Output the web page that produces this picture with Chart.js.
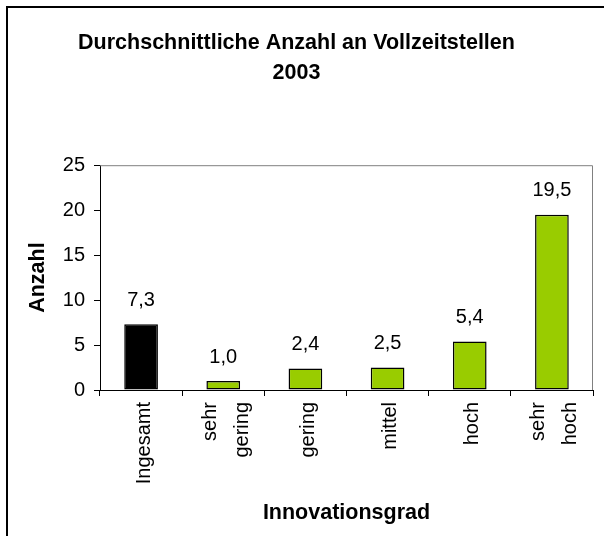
<!DOCTYPE html>
<html>
<head>
<meta charset="utf-8">
<script src="https://cdn.jsdelivr.net/npm/chart.js@4"></script>
<style>
  html, body { margin: 0; padding: 0; background: #fff; }
  #wrap { width: 604px; height: 536px; position: relative; }
</style>
</head>
<body>
<div id="wrap"><canvas id="chart" width="604" height="536"></canvas></div>
<script>
// chart data
const categories = ["Ingesamt", ["sehr", "gering"], "gering", "mittel", "hoch", ["sehr", "hoch"]];
const values = [7.3, 1.0, 2.4, 2.5, 5.4, 19.5];
const barColors = ["#000000", "#99cc00", "#99cc00", "#99cc00", "#99cc00", "#99cc00"];
const yTicks = [0, 5, 10, 15, 20, 25];

const FONT = "'Liberation Sans', Arial, sans-serif";

// frame around the whole picture, grey plot border, value labels, rotated x labels
const extras = {
  id: "extras",
  beforeDraw(chart) {
    const ctx = chart.ctx;
    ctx.save();
    ctx.fillStyle = "#fff";
    ctx.fillRect(0, 0, chart.width, chart.height);
    ctx.strokeStyle = "#000";
    ctx.lineWidth = 2;
    ctx.beginPath();
    ctx.moveTo(7, chart.height);
    ctx.lineTo(7, 7);
    ctx.lineTo(chart.width, 7);
    ctx.stroke();
    ctx.restore();
  },
  afterDatasetsDraw(chart) {
    const ctx = chart.ctx;
    const a = chart.chartArea;
    ctx.save();
    ctx.strokeStyle = "#808080";
    ctx.lineWidth = 1;
    ctx.beginPath();
    ctx.moveTo(a.left, a.top + 0.5);
    ctx.lineTo(a.right - 0.5, a.top + 0.5);
    ctx.lineTo(a.right - 0.5, a.bottom);
    ctx.stroke();

    ctx.fillStyle = "#000";
    ctx.font = "20px " + FONT;
    ctx.textAlign = "center";
    ctx.textBaseline = "middle";
    chart.getDatasetMeta(0).data.forEach((bar, i) => {
      ctx.fillText(values[i].toFixed(1).replace(".", ","), bar.x, bar.y - 24);
    });

    // category labels, rotated, multi-line ones centred on the tick
    const xs = chart.scales.x;
    const lh = 32;
    categories.forEach((c, i) => {
      const lines = Array.isArray(c) ? c : [c];
      const x0 = xs.getPixelForValue(i) + 3;
      lines.forEach((t, j) => {
        const cx = x0 + (j - (lines.length - 1) / 2) * lh;
        ctx.save();
        ctx.translate(cx, a.bottom + 12);
        ctx.rotate(-Math.PI / 2);
        ctx.textAlign = "right";
        ctx.textBaseline = "middle";
        ctx.fillText(t, 0, 0);
        ctx.restore();
      });
    });
    ctx.restore();
  }
};

new Chart(document.getElementById("chart"), {
  type: "bar",
  data: {
    labels: categories,
    datasets: [{
      data: values,
      backgroundColor: barColors,
      borderColor: "#000",
      borderWidth: 1.5,
      borderSkipped: false,
      barPercentage: 0.41,
      categoryPercentage: 1.0
    }]
  },
  options: {
    responsive: false,
    animation: false,
    layout: { padding: { left: 0, right: 11, top: 0, bottom: 0 } },
    plugins: {
      legend: { display: false },
      tooltip: { enabled: false },
      title: {
        display: true,
        text: ["Durchschnittliche Anzahl an Vollzeitstellen", "2003"],
        color: "#000",
        font: { family: FONT, size: 21.5, weight: "bold", lineHeight: 1.4 },
        padding: { top: 28, bottom: 77 }
      }
    },
    scales: {
      x: {
        grid: { offset: true, drawOnChartArea: false, drawTicks: true, tickLength: 6, color: "#000" },
        border: { color: "#000", width: 1 },
        ticks: { display: false, autoSkip: false },
        title: {
          display: true,
          text: "Innovationsgrad",
          color: "#000",
          font: { family: FONT, size: 21.5, weight: "bold" },
          padding: { top: 0, bottom: 10 }
        },
        afterFit(scale) { scale.height = 146; }
      },
      y: {
        min: 0,
        max: 25,
        afterBuildTicks(scale) { scale.ticks = yTicks.map(v => ({ value: v })); },
        grid: { drawOnChartArea: false, drawTicks: true, tickLength: 6, color: "#000" },
        border: { color: "#000", width: 1 },
        ticks: {
          color: "#000",
          font: { family: FONT, size: 20 },
          padding: 9
        },
        title: {
          display: true,
          text: "Anzahl",
          color: "#000",
          font: { family: FONT, size: 21.5, weight: "bold" },
          padding: { top: 25, bottom: 0 }
        },
        afterFit(scale) { scale.width = 100; }
      }
    }
  },
  plugins: [extras]
});
</script>
</body>
</html>
